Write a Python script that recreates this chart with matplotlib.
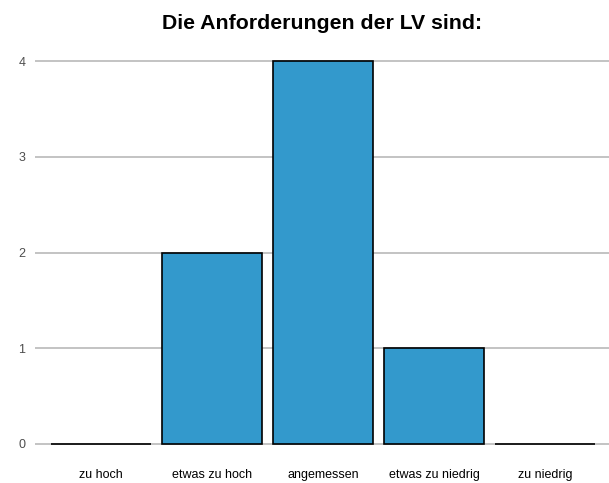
import matplotlib
matplotlib.use("Agg")
import matplotlib.pyplot as plt

plt.rcParams['font.family'] = ['Liberation Sans', 'DejaVu Sans']

categories = ["zu hoch", "etwas zu hoch", "angemessen", "etwas zu niedrig", "zu niedrig"]
counts = [0, 2, 4, 1, 0]
title = "Die Anforderungen der LV sind:"

fig = plt.figure(figsize=(6.09, 4.83), dpi=100)
ax = fig.add_axes([35 / 609, 20 / 483, 574 / 609, 421 / 483])

x = range(len(categories))
ax.bar(x, counts, width=0.9, color='#3399cc', edgecolor='black', linewidth=1.2, zorder=3)

ax.set_xlim(-0.595, 4.577)
ax.set_ylim(-0.2, 4.2)
ax.set_xticks(list(x))
ax.set_xticklabels(categories, fontsize=9, color='black')
ax.set_yticks([0, 1, 2, 3, 4])
ax.tick_params(axis='both', length=0, labelsize=9)
ax.tick_params(axis='y', labelcolor='#4d4d4d', pad=7)
ax.tick_params(axis='x', pad=4)

ax.grid(axis='y', color='#b3b3b3', linewidth=1.1, zorder=0)
for s in ax.spines.values():
    s.set_visible(False)

fig.suptitle(title, fontsize=15.3, fontweight='bold', x=322 / 609, y=0.97)

fig.savefig("out.png", dpi=100)
